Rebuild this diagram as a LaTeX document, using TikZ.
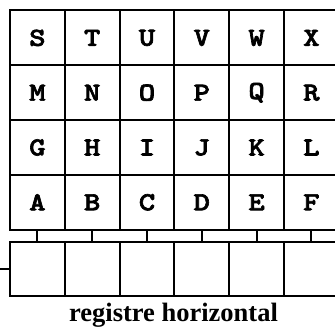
\documentclass[tikz,border=0pt]{standalone}
\usepackage{fontspec}
\newfontfamily\captionfont{Liberation Serif}
\newfontfamily\cellfont{lmmonolt10-bold.otf}[FakeBold=2.5,FakeStretch=1.2]
\usetikzlibrary{positioning}
\tikzset{
  cell/.style={draw, line width=2pt, minimum size=54.8pt, inner sep=0pt,
    font=\cellfont\fontsize{26}{26}\selectfont},
  regcell/.style={draw, line width=2pt, minimum width=54.8pt, minimum height=54.5pt, inner sep=0pt},
  wire/.style={line width=2pt}
}
\begin{document}
\begin{tikzpicture}[x=1pt,y=-1pt]
  \useasboundingbox (0,0) rectangle (335,329);
  % letter grid, top row first
  \foreach \letters [count=\r] in {{S,T,U,V,W,X},{M,N,O,P,Q,R},{G,H,I,J,K,L},{A,B,C,D,E,F}}
    \foreach \l [count=\c] in \letters
      \node[cell] (\l) at ({10+54.8*(\c-0.5)},{10.5+54.8*(\r-0.5)}) {\l};
  % horizontal register
  \foreach \c in {1,...,6}
    \node[regcell] (reg\c) at ({10+54.8*(\c-0.5)},269) {};
  \foreach \l [count=\c] in {A,B,C,D,E,F}
    \draw[wire] (\l.south) -- (reg\c.north);
  \coordinate (in) at (0,269);
  \draw[wire] (in) -- (reg1.west);
  \node[font=\captionfont\bfseries\fontsize{26.5}{26.5}\selectfont, anchor=base] (caption) at (173.5,321) {registre horizontal};
\end{tikzpicture}
\end{document}
